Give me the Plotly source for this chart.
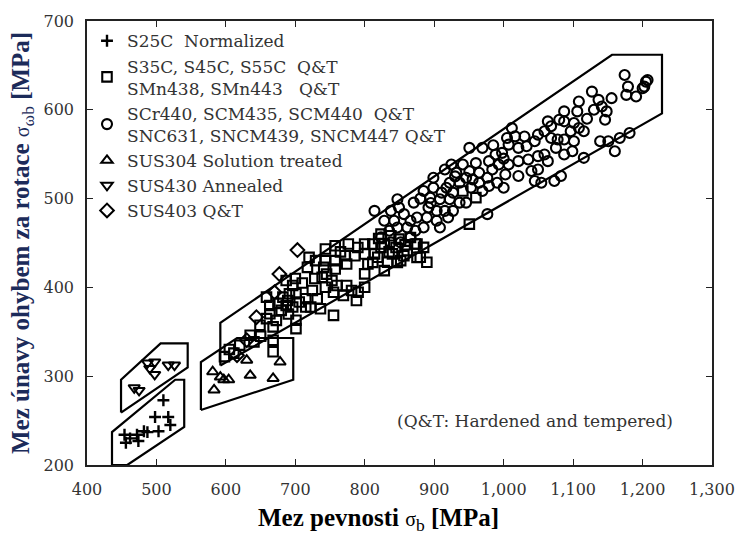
import plotly.graph_objects as go

# ---------------- data ----------------
s25c_x = [454, 456, 472, 474, 482, 487, 498, 503, 510, 517, 520, 462]
s25c_y = [234, 225, 234, 227, 238, 237, 254, 238, 273, 254, 245, 230]

sq_x = [719.8, 743.3, 757.4, 776.3, 799.8, 811.6, 823.4, 837.5, 849.3, 828.1, 814, 799.8, 785.7,
        771.6, 757.4, 743.3, 729.2, 717.4, 740.9, 757.4, 773.9, 738.6, 752.7, 743.3, 759.8, 773.9,
        781, 790.4, 799.8, 788, 769.2, 755, 724.5, 731.5, 715, 705.6, 696.2, 689.1, 679.7, 672.7,
        658.5, 649.1, 668, 700.9, 700.9, 755, 686.8, 696.2, 658.5, 682.1, 691.5, 700.9, 715, 722.1,
        736.2, 663.2, 686.8, 811.6, 828.1, 846.9, 856.3, 799.8, 804.5, 875.2, 865.8, 872.8,
        663.3, 635, 640.4, 611.5, 668, 668, 861.1, 884.7, 879.9, 889.4, 851.7, 818.7, 832.8,
        950.6, 960, 941.2, 823.4, 839.9, 875.2,
        845, 858, 835, 820, 790, 765, 745, 728, 710, 700, 690, 675, 650, 620, 605, 598]
sq_y = [433.8, 443.2, 446.9, 448.8, 448.8, 448.8, 460, 458.1, 454.4, 448.8, 437.6, 437.6, 435.7,
        435.7, 430.1, 430.1, 430.1, 422.6, 422.6, 420.8, 426.4, 411.4, 407.7, 400.2, 402.1, 402.1,
        396.5, 394.6, 400.2, 385.3, 390.9, 394.6, 396.5, 387.2, 387.2, 383.5, 377.9, 385.3, 374.1, 362.9,
        364.8, 357.3, 355.5, 363, 353.6, 368.5, 407.7, 402.1, 389.1, 389.1, 392.8, 392.8, 377.9, 377.9,
        376, 379.7, 379.7, 428.2, 418.9, 428.2, 435.7, 415.2, 426.4, 433.8, 456.2, 448.8,
        370.4, 346.1, 338.7, 326, 327.5, 340.5, 441.4, 445.1, 433.9, 428.3, 430.2, 433.9, 428.3,
        471.3, 501.1, 508.6, 445.1, 437.7, 448.9,
        445, 448, 440, 455, 445, 440, 415, 410, 405, 410, 370, 382, 345, 335, 330, 322]

ci_x = [1011.8, 1016.5, 1004.8, 1007.1, 1033, 1021.2, 1035.4, 1021.2, 1007.1, 1002.4, 993, 983.6,
        978.9, 988.3, 997.7, 969.4, 950.6, 924.7, 915.3, 941.2, 950.6, 964.7, 976.5, 990.6, 1021.2,
        1000, 978.9, 964.7, 955.3, 945.9, 931.8, 922.3, 936.5, 952.9, 969.4, 927, 910.6, 898.8,
        894.1, 908.2, 922.3, 936.5, 945.9, 915.3, 903.5, 891.7, 884.7, 870.5, 847, 849.3, 837.6,
        828.1, 842.3, 856.4, 865.8, 875.2, 889.4, 903.5, 908.2, 920, 927, 861.1, 872.9, 884.7, 847,
        835.2, 823.4, 837.6, 851.7, 865.8, 814, 1049.5, 1044.8, 1054.2, 1073, 1082.5, 976.5, 917.6,
        898.8,
        1174.2, 1179, 1176.6, 1190.7, 1200.1, 1204.9, 1202.5, 1207.2, 1127.1, 1136.6, 1141.3, 1148.3,
        1146, 1155.4, 1108.3, 1087.1, 1106, 1101.2, 1096.5, 1087.1, 1080, 1068.3, 1063.6, 1058.8,
        1049.4, 1044.7, 1068.3, 1077.7, 1087.1, 1075.3, 1058.8, 1049.4, 1063.6, 1087.1, 1098.9,
        1115.4, 1108.3, 1101.2, 1115.4, 1138.9, 1150.7, 1167.2, 1181.3, 1160.1, 1040,
        880, 895, 930, 960, 985, 1000, 1030, 1120, 1130]
ci_y = [579.4, 570.1, 568.3, 560.8, 558.9, 557.1, 544, 542.2, 538.4, 527.2, 538.4, 532.8,
        542.2, 549.6, 551.5, 557.1, 557.1, 538.4, 532.8, 538.4, 530.9, 529.1, 523.5, 517.9, 525.4,
        512.3, 514.2, 517.9, 521.6, 523.5, 529.1, 517.9, 517.9, 512.3, 508.6, 506.7, 506.7, 512.3,
        501.1, 499.3, 499.3, 495.5, 495.5, 486.2, 486.2, 489.9, 508.6, 495.5, 499.3, 489.9, 486.2,
        475, 475, 482.5, 475, 478.7, 478.7, 475, 467.5, 478.7, 486.2, 467.5, 463.8, 467.5, 467.5,
        463.8, 456.3, 450.7, 450.7, 456.3, 486.2, 532.8, 519.8, 517.9, 519.8, 525.4, 482.5, 512.3,
        523.5,
        639.2, 626.1, 616.8, 614.9, 624.3, 631.7, 626.1, 633.6, 620.5, 611.2, 603.8, 598.2,
        588.8, 613.1, 609.4, 598.2, 598.2, 585.1, 575.8, 587, 588.8, 581.4, 587, 575.8,
        572, 564.6, 568.3, 566.5, 566.5, 557.1, 549.7, 547.8, 542.2, 549.7, 553.4,
        575.8, 579.5, 564.6, 545.9, 564.6, 564.6, 568.3, 573.9, 553.4, 531,
        500, 495, 525, 540, 560, 545, 570, 590, 600]

tri_x = [583, 581, 597, 604, 592, 635, 668, 678, 630]
tri_y = [284.5, 305, 296, 296, 299, 301, 297.5, 316, 318]

itri_x = [468, 475, 487, 497.5, 490.4, 497.5, 517, 526]
itri_y = [287, 284, 315, 316, 308.7, 302, 312.5, 312.5]

dia_x = [703, 677, 670, 644, 630, 616]
dia_y = [442, 415, 394.5, 366.5, 340.5, 323.6]

# envelope polygons
env_s25c_x = [436, 458, 540, 540, 527, 436, 436]
env_s25c_y = [200, 200, 243, 296, 296, 237, 200]
env_sus430_x = [449, 449, 506, 545, 545, 449]
env_sus430_y = [259, 296, 337, 337, 310, 259]
env_sus304_x = [564, 564, 616, 697, 697, 564]
env_sus304_y = [262, 316, 343, 343, 296, 262]
env_main_x = [592, 592, 1156, 1228, 1228, 592]
env_main_y = [312, 360, 662, 662, 596, 312]

x_ticks = [400, 500, 600, 700, 800, 900, 1000, 1100, 1200, 1300]
x_ticktext = ["400", "500", "600", "700", "800", "900", "1,000", "1,100", "1,200", "1,300"]
y_ticks = [200, 300, 400, 500, 600, 700]

NB = "\u00a0"
names = [
    "S25C" + NB * 2 + "Normalized",
    "S35C, S45C, S55C" + NB * 2 + "Q&T<br>SMn438, SMn443" + NB * 3 + "Q&T",
    "SCr440, SCM435, SCM440" + NB * 2 + "Q&T<br>SNC631, SNCM439, SNCM447 Q&T",
    "SUS304" + NB + "Solution treated",
    "SUS430" + NB + "Annealed",
    "SUS403" + NB + "Q&T",
]

fig = go.Figure()

for ex, ey in [(env_s25c_x, env_s25c_y), (env_sus430_x, env_sus430_y),
               (env_sus304_x, env_sus304_y), (env_main_x, env_main_y)]:
    fig.add_trace(go.Scatter(x=ex, y=ey, mode="lines", line=dict(color="black", width=2.2),
                             showlegend=False, hoverinfo="skip"))

series = [
    (s25c_x, s25c_y, "cross-thin-open", 8.5, 2.4, names[0]),
    (sq_x, sq_y, "square-open", 9.5, 2.1, names[1]),
    (ci_x, ci_y, "circle-open", 10, 2.1, names[2]),
    (tri_x, tri_y, "triangle-up-open", 10, 2.0, names[3]),
    (itri_x, itri_y, "triangle-down-open", 10, 2.0, names[4]),
    (dia_x, dia_y, "diamond-open", 10.5, 2.0, names[5]),
]
for sx, sy, sym, sz, lw, nm in series:
    fig.add_trace(go.Scatter(
        x=sx, y=sy, mode="markers", name=nm,
        marker=dict(symbol=sym, size=sz, color="black", line=dict(color="black", width=lw)),
    ))

tickfont = dict(family="DejaVu Serif", size=16, color="#333333")
axis_common = dict(showline=True, linecolor="#222222", linewidth=1.5, mirror="ticks",
                   ticks="inside", ticklen=6, tickwidth=1.2, tickcolor="#222222",
                   showgrid=False, zeroline=False, tickfont=tickfont)

fig.update_layout(
    width=747, height=536,
    margin=dict(l=87, r=23, t=19, b=71),
    paper_bgcolor="white", plot_bgcolor="white",
    xaxis=dict(range=[400, 1300], tickvals=x_ticks, ticktext=x_ticktext,
               ticklabelstandoff=9, **axis_common),
    yaxis=dict(range=[200, 700], tickvals=y_ticks, ticklabelstandoff=8, **axis_common),
    legend=dict(x=0.0, y=0.995, xanchor="left", yanchor="top",
                font=dict(family="DejaVu Serif", size=17, color="#333333"),
                bgcolor="rgba(0,0,0,0)", tracegroupgap=0),
    showlegend=True,
    annotations=[
        dict(text="(Q&T: Hardened and tempered)", x=1045, y=249, xref="x", yref="y",
             showarrow=False, font=dict(family="DejaVu Serif", size=17, color="#333333")),
        dict(text="Mez pevnosti <span style='font-weight:normal'><span style='font-size:20px'>σ</span><sub>b</sub></span> [MPa]",
             x=0.5, y=0, xref="paper", yref="paper", xshift=-21, yshift=-54,
             xanchor="center", yanchor="middle", showarrow=False,
             font=dict(family="Liberation Serif", size=25, color="black", weight="bold")),
        dict(text="Mez únavy ohybem za rotace <span style='font-weight:normal'><span style='font-size:20px'>σ</span><sub>ωb</sub></span> [MPa]",
             x=0, y=0.5, xref="paper", yref="paper", xshift=-65, yshift=0,
             xanchor="center", yanchor="middle", textangle=-90, showarrow=False,
             font=dict(family="Liberation Serif", size=25, color="#1c2b5a", weight="bold")),
    ],
)

fig.write_html("out.html")
